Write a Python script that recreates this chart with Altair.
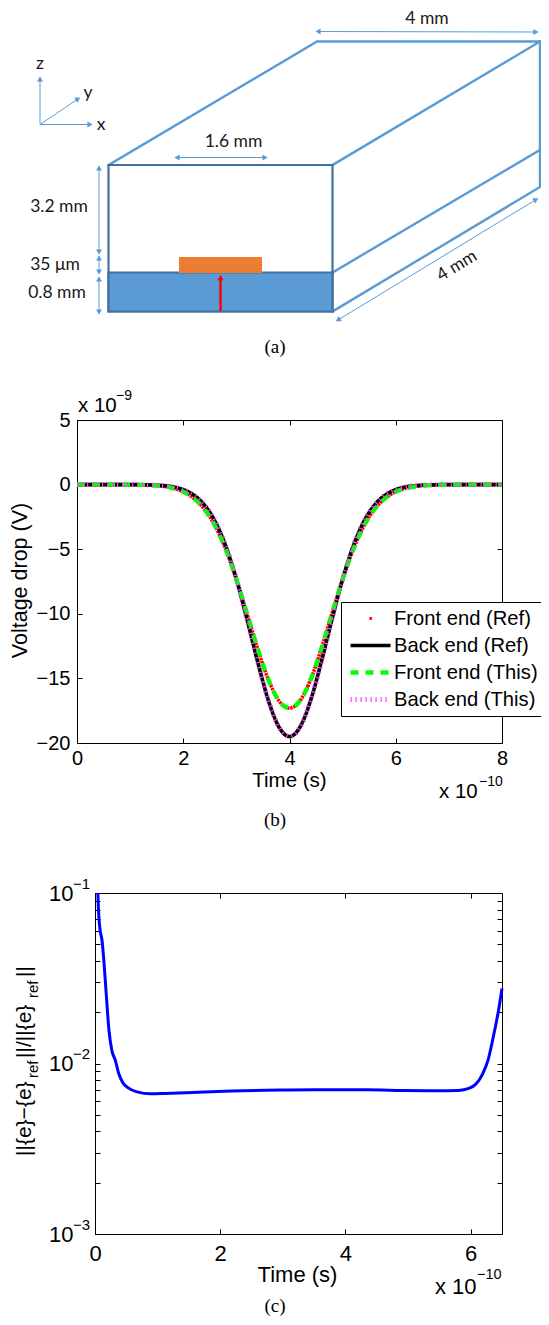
import altair as alt
import pandas as pd

# ---------- panel (b) curves ----------
b_time = [0.0, 0.5, 1.0, 1.2, 1.4, 1.6, 1.8, 2.0, 2.2, 2.4, 2.6, 2.8, 3.0, 3.2, 3.4, 3.6, 3.8, 4.0,
          4.2, 4.4, 4.6, 4.8, 5.0, 5.2, 5.4, 5.6, 5.8, 6.0, 6.2, 6.4, 6.6, 6.8, 7.0, 7.5, 8.0]
b_back = [0, 0, 0, -0.01, -0.03, -0.07, -0.17, -0.39, -0.82, -1.59, -2.86, -4.76, -7.32, -10.42,
          -13.70, -16.67, -18.75, -19.5, -18.75, -16.67, -13.70, -10.42, -7.32, -4.76, -2.86, -1.59,
          -0.82, -0.39, -0.17, -0.07, -0.03, -0.01, 0, 0, 0]
b_front = [0, 0, -0.01, -0.02, -0.05, -0.12, -0.27, -0.55, -1.07, -1.91, -3.20, -5.02, -7.32, -9.98,
           -12.69, -15.07, -16.72, -17.3, -16.72, -15.07, -12.69, -9.98, -7.32, -5.02, -3.20, -1.91,
           -1.07, -0.55, -0.27, -0.12, -0.05, -0.02, -0.01, 0, 0]
series_names = ["Front end (Ref)", "Back end (Ref)", "Front end (This)", "Back end (This)"]
series_colors = ["#ff0000", "#000000", "#00ff00", "#ff40ff"]
series_widths = [3, 5, 2.6, 1]
series_dashes = [[0, 19, 2.4, 100], [1, 0], [8, 7], [1.2, 3.8]]

# ---------- panel (c) curve ----------
c_time = [0.045, 0.056, 0.078, 0.112, 0.145, 0.179, 0.223, 0.268, 0.324, 0.379, 0.446, 0.530, 0.670,
          0.893, 1.116, 1.562, 2.176, 2.957, 3.515, 4.352, 4.910, 5.468, 5.803, 5.971, 6.082, 6.194,
          6.277, 6.361, 6.445, 6.5]
c_error = [0.1, 0.0791, 0.0618, 0.0528, 0.0385, 0.0257, 0.01567, 0.01197, 0.01046, 0.00873, 0.0077,
           0.0072, 0.00682, 0.00664, 0.00667, 0.00676, 0.00689, 0.00698, 0.00701, 0.00701, 0.00695,
           0.00692, 0.00695, 0.00714, 0.00757, 0.00873, 0.01046, 0.01432, 0.02053, 0.0275]

# ---------- axes ----------
b_xticks = [0, 2, 4, 6, 8]
b_yticks = [-20, -15, -10, -5, 0, 5]
c_xticks = [0, 2, 4, 6]
c_ymajor = [0.001, 0.01, 0.1]
c_yminor = [0.002, 0.003, 0.004, 0.005, 0.006, 0.007, 0.008, 0.009,
            0.02, 0.03, 0.04, 0.05, 0.06, 0.07, 0.08, 0.09]

# ---------- panel (a) schematic, in figure units ----------
BLUE = "#5b9bd5"
DARK = "#41719c"
ORANGE = "#ed7d31"
seg_x = [[108.5, 317, 540, 332.5], [540, 540, 332.5], [332.5, 540]]
seg_y = [[165, 41.5, 41.5, 165], [41.5, 187, 311.5], [272.5, 150]]
thin_x1 = [318, 177, 99, 99, 99, 338, 40, 40, 40]
thin_y1 = [31.5, 157.5, 166, 256, 277, 320, 124.5, 124.5, 124.5]
thin_x2 = [537, 265, 99, 99, 99, 537, 40, 78, 90]
thin_y2 = [32, 157.5, 254, 274, 314, 199, 77, 99, 124.5]
head_x = [318, 536, 177, 265, 99, 99, 99, 99, 99, 99, 338, 536, 40, 78, 90]
head_y = [31.5, 32, 157.5, 157.5, 168, 252, 258, 272, 279, 312, 320, 199.5, 79, 99, 124.5]
head_a = [270, 90, 270, 90, 0, 180, 0, 180, 0, 180, 239, 59, 0, 58, 90]
diagram_labels = ["4 mm", "1.6 mm", "3.2 mm", "35 μm", "0.8 mm", "4 mm", "z", "y", "x"]
diagram_lx = [427, 233.5, 59, 55, 57, 457, 40, 88, 101]
diagram_ly = [18.5, 142, 207, 265, 293, 266, 64, 93, 125]
diagram_la = [0, 0, 0, 0, 0, 329, 0, 0, 0]

# ---------- free texts ----------
caption_txt = ["(a)", "(b)", "(c)"]
caption_y = [347, 820, 1306]
note_txt = ["x 10", "−9", "x 10", "−10", "x 10", "−10", "−1", "−2", "−3"]
note_x = [78, 116, 439, 479, 435, 477, 73, 73, 73]
note_y = [406, 396, 792, 782, 1287, 1275, 884, 1054, 1225]
note_s = [20.5, 14, 20.5, 14, 22, 14.5, 15, 15, 15]
ylab_txt = ["||{e}−{e}", "ref", "||/||{e}", "ref", "||"]
ylab_y = [1156, 1078, 1058, 998, 977]
ylab_s = [21, 15, 21, 15, 21]
ylab_x = [31, 38, 31, 38, 31]

FW, FH = 549, 1325          # figure size
W, H = 533, 1309            # drawing size that still fits in the window with the page margin
FIG_X = alt.Scale(domain=[0, FW], range=[-8, FW - 8], nice=False, zero=False)
FIG_Y = alt.Scale(domain=[0, FH], range=[-8, FH - 8], nice=False, zero=False)
SANS = "Liberation Sans"
SERIF = "Liberation Serif"


def fx(f):
    return alt.X(f, scale=FIG_X, axis=None)


def fy(f):
    return alt.Y(f, scale=FIG_Y, axis=None)


# ---------- diagram ----------
rows = []
for i, (xs, ys) in enumerate(zip(seg_x, seg_y)):
    for j, (a, b) in enumerate(zip(xs, ys)):
        rows.append({"g": i, "o": j, "x": a, "y": b})
outline = alt.Chart(pd.DataFrame(rows)).mark_line(color=BLUE, strokeWidth=2.4, strokeCap="square").encode(
    x=fx("x:Q"), y=fy("y:Q"), detail="g:N", order="o:Q")
rect_df = pd.DataFrame({"x": [108.5, 108.5, 179], "x2": [332.5, 332.5, 262],
                        "y": [165, 272.5, 257], "y2": [311.5, 311.5, 273],
                        "k": ["air", "sub", "strip"]})
air = alt.Chart(rect_df[rect_df.k == "air"]).mark_rect(fillOpacity=0, stroke=DARK, strokeWidth=2.2).encode(
    x=fx("x:Q"), x2="x2:Q", y=fy("y:Q"), y2="y2:Q")
sub = alt.Chart(rect_df[rect_df.k == "sub"]).mark_rect(fill=BLUE, stroke=DARK, strokeWidth=2.2).encode(
    x=fx("x:Q"), x2="x2:Q", y=fy("y:Q"), y2="y2:Q")
strip = alt.Chart(rect_df[rect_df.k == "strip"]).mark_rect(fill=ORANGE).encode(
    x=fx("x:Q"), x2="x2:Q", y=fy("y:Q"), y2="y2:Q")
thin = alt.Chart(pd.DataFrame({"x": thin_x1, "y": thin_y1, "x2": thin_x2, "y2": thin_y2})).mark_rule(
    color=BLUE, strokeWidth=1).encode(x=fx("x:Q"), x2="x2:Q", y=fy("y:Q"), y2="y2:Q")
heads = alt.Chart(pd.DataFrame({"x": head_x, "y": head_y, "a": head_a})).mark_point(
    shape="triangle-up", filled=True, color=BLUE, size=36, opacity=1).encode(
    x=fx("x:Q"), y=fy("y:Q"), angle=alt.Angle("a:Q", scale=None))
red_rule = alt.Chart(pd.DataFrame({"x": [220.5], "y": [311], "y2": [278]})).mark_rule(
    color="#ff0000", strokeWidth=2.5).encode(x=fx("x:Q"), y=fy("y:Q"), y2="y2:Q")
red_head = alt.Chart(pd.DataFrame({"x": [220.5], "y": [277.5]})).mark_point(
    shape="triangle-up", filled=True, color="#ff0000", size=38, opacity=1).encode(x=fx("x:Q"), y=fy("y:Q"))
diagram_text = alt.Chart(pd.DataFrame({"t": diagram_labels, "x": diagram_lx, "y": diagram_ly, "a": diagram_la})).mark_text(
    font="Lato", fontSize=17.5, color="#1a1a1a", align="center", baseline="middle").encode(
    x=fx("x:Q"), y=fy("y:Q"), text="t:N", angle=alt.Angle("a:Q", scale=None))
captions = alt.Chart(pd.DataFrame({"t": caption_txt, "x": [275, 275, 275], "y": caption_y})).mark_text(
    font=SERIF, fontSize=19, color="#000000", align="center", baseline="middle").encode(
    x=fx("x:Q"), y=fy("y:Q"), text="t:N")
notes = alt.Chart(pd.DataFrame({"t": note_txt, "x": note_x, "y": note_y, "s": note_s})).mark_text(
    font=SANS, color="#000000", align="left", baseline="middle").encode(
    x=fx("x:Q"), y=fy("y:Q"), text="t:N", size=alt.Size("s:Q", scale=None, legend=None))
ylab = alt.Chart(pd.DataFrame({"t": ylab_txt, "x": ylab_x, "y": ylab_y, "s": ylab_s})).mark_text(
    font=SANS, color="#000000", align="left", baseline="alphabetic", angle=270).encode(
    x=fx("x:Q"), y=fy("y:Q"), text="t:N", size=alt.Size("s:Q", scale=None, legend=None))

# ---------- panel (b) ----------
BX0, BX1, BY0, BY1 = 77, 502, 420, 743
b_xs = alt.Scale(domain=[0, 8], range=[BX0 - 8, BX1 - 8], nice=False, zero=False)
b_ys = alt.Scale(domain=[5, -20], range=[BY0 - 8, BY1 - 8], nice=False, zero=False)
df_b = pd.DataFrame({"t": b_time, series_names[0]: b_front, series_names[1]: b_back,
                     series_names[2]: b_front, series_names[3]: b_back})
df_long = df_b.melt("t", var_name="series", value_name="v")

AX = dict(grid=False, domainColor="#000000", tickColor="#000000", domainWidth=1, tickWidth=1,
          labelFont=SANS, labelColor="#000000", labelOverlap=False, labelFlush=False)


def inward(values, orient, offset, size=5):
    return alt.Axis(values=values, orient=orient, offset=offset, labels=False, tickSize=size,
                    title=None, **AX)


def frame(xs, ys, xt, yt, ylabelled, X0, X1, Y0, Y1, lab_size, xpad, ypad, ylab_expr=None, ytitle=None, xtitle=None):
    """Boxed panel with inward ticks: labelled axes carry no ticks, the rest are drawn turned round."""
    base = alt.Chart(pd.DataFrame({"x": [xs.domain[0]], "y": [ys.domain[0]]})).mark_point(opacity=0)
    px0, px1, py0, py1 = X0 - 8, X1 - 8, Y0 - 8, Y1 - 8
    xkw = dict(title=xtitle[0], titleX=xtitle[1], titleY=xtitle[2], titleFontSize=xtitle[3])
    if ytitle:
        ykw = dict(title=ytitle[0], titleX=ytitle[1], titleY=ytitle[2], titleFontSize=ytitle[3])
    else:
        ykw = dict(title=None)
    if ylab_expr:
        ykw["labelExpr"] = ylab_expr
    a = base.encode(
        x=alt.X("x:Q", scale=xs, axis=alt.Axis(
            values=xt, orient="bottom", offset=py1 - H, labels=True, ticks=False, format="d",
            labelPadding=xpad, labelFontSize=lab_size, titleFont=SANS, titleFontWeight="normal",
            titleColor="#000000", **xkw, **AX)),
        y=alt.Y("y:Q", scale=ys, axis=alt.Axis(
            values=ylabelled, orient="left", offset=-px0, labels=True, ticks=False,
            labelPadding=ypad, labelFontSize=lab_size, titleFont=SANS, titleFontWeight="normal",
            titleColor="#000000", **ykw, **AX)))
    b = base.encode(
        x=alt.X("x:Q", scale=xs, axis=inward(xt, "top", -py1)),
        y=alt.Y("y:Q", scale=ys, axis=inward(yt, "right", px0 - W)))
    c = base.encode(
        x=alt.X("x:Q", scale=xs, axis=inward(xt, "bottom", py0 - H)),
        y=alt.Y("y:Q", scale=ys, axis=inward(yt, "left", -px1)))
    return [a, b, c]


b_frame = frame(b_xs, b_ys, b_xticks, b_yticks, b_yticks, BX0, BX1, BY0, BY1, 20, 5, 7,
                ytitle=("Voltage drop (V)", -46, 572, 21.5),
                xtitle=("Time (s)", 281, 27, 20.5))

red_dots = alt.Chart(df_long[df_long.series == series_names[0]]).mark_line(
    color="#ff0000", strokeWidth=3.6, strokeDash=[2.4, 0.8], interpolate="monotone").encode(
    x=alt.X("t:Q", scale=b_xs, axis=None), y=alt.Y("v:Q", scale=b_ys, axis=None))
curves = alt.Chart(df_long).mark_line(interpolate="monotone").encode(
    x=alt.X("t:Q", scale=b_xs, axis=None),
    y=alt.Y("v:Q", scale=b_ys, axis=None),
    color=alt.Color("series:N", scale=alt.Scale(domain=series_names, range=series_colors),
                    legend=alt.Legend(
                        title=None, orient="none", legendX=333, legendY=594,
                        fillColor="#ffffff", strokeColor="#000000", padding=3,
                        symbolType="stroke", symbolSize=1600, clipHeight=27, symbolOffset=4,
                        labelFont=SANS, labelFontSize=20.2, labelColor="#000000", labelOffset=1,
                        rowPadding=0, symbolOpacity=1)),
    strokeWidth=alt.StrokeWidth("series:N", scale=alt.Scale(domain=series_names, range=series_widths), legend=None),
    strokeDash=alt.StrokeDash("series:N", scale=alt.Scale(domain=series_names, range=series_dashes), legend=None),
)

# ---------- panel (c) ----------
CX0, CX1, CY0, CY1 = 95, 502, 893, 1234
c_xs = alt.Scale(domain=[0, 6.5], range=[CX0 - 8, CX1 - 8], nice=False, zero=False)
c_ys = alt.Scale(type="log", domain=[0.1, 0.001], range=[CY0 - 8, CY1 - 8], nice=False)
c_frame = frame(c_xs, c_ys, c_xticks, c_ymajor + c_yminor, c_ymajor, CX0, CX1, CY0, CY1, 22, 9, 22,
                ylab_expr="'10'",
                xtitle=("Time (s)", 289, 30, 22))
c_line = alt.Chart(pd.DataFrame({"t": c_time, "e": c_error})).mark_line(
    color="#0000ff", strokeWidth=3, interpolate="monotone").encode(
    x=alt.X("t:Q", scale=c_xs, axis=None), y=alt.Y("e:Q", scale=c_ys, axis=None))

chart = alt.layer(
    outline, air, sub, strip, thin, heads, red_rule, red_head, diagram_text, captions,
    *b_frame, red_dots, curves,
    *c_frame, c_line,
    notes, ylab,
).resolve_scale(x="independent", y="independent", color="independent",
                strokeWidth="independent", strokeDash="independent", size="independent", angle="independent"
).resolve_axis(x="independent", y="independent"
).properties(width=W, height=H, padding=0, autosize=alt.AutoSizeParams(type="none"), background="#ffffff"
).configure_view(stroke=None).configure_axis(labelLimit=0)

chart.save("out.html", embed_options={"renderer": "svg", "actions": False})
